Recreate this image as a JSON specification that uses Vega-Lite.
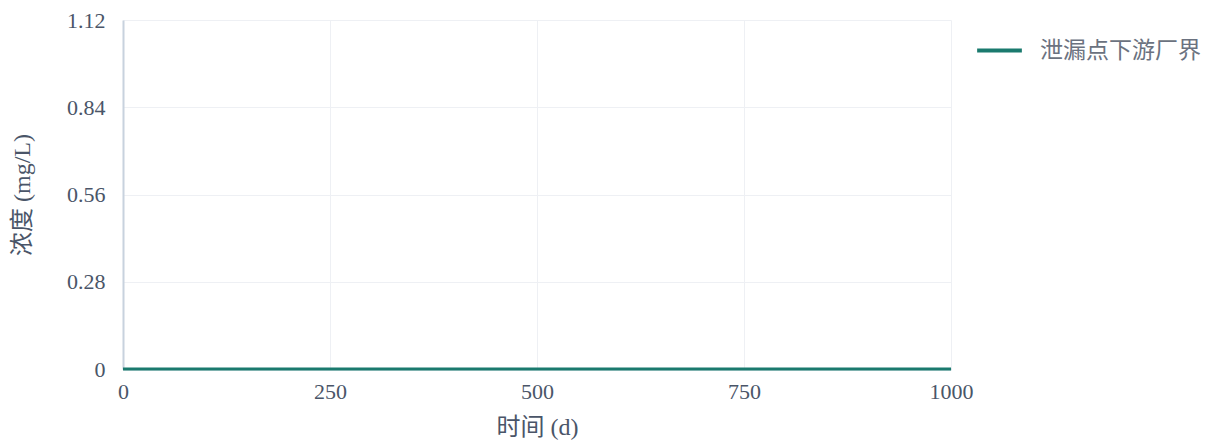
{
  "$schema": "https://vega.github.io/schema/vega-lite/v6.json",
  "width": 828,
  "height": 349,
  "autosize": "none",
  "padding": {"left": 123, "top": 20, "right": 254, "bottom": 72},
  "background": "white",
  "data": {
    "values": [
      {"t": 0, "c": 0, "s": "泄漏点下游厂界"},
      {"t": 100, "c": 0, "s": "泄漏点下游厂界"},
      {"t": 200, "c": 0, "s": "泄漏点下游厂界"},
      {"t": 300, "c": 0, "s": "泄漏点下游厂界"},
      {"t": 400, "c": 0, "s": "泄漏点下游厂界"},
      {"t": 500, "c": 0, "s": "泄漏点下游厂界"},
      {"t": 600, "c": 0, "s": "泄漏点下游厂界"},
      {"t": 700, "c": 0, "s": "泄漏点下游厂界"},
      {"t": 800, "c": 0, "s": "泄漏点下游厂界"},
      {"t": 900, "c": 0, "s": "泄漏点下游厂界"},
      {"t": 1000, "c": 0, "s": "泄漏点下游厂界"}
    ]
  },
  "config": {
    "view": {"stroke": null},
    "font": "Liberation Serif, Noto Sans CJK SC",
    "axis": {
      "labelFont": "Liberation Serif",
      "labelFontSize": 22,
      "labelColor": "#4a5568",
      "titleFont": "Liberation Serif, Noto Sans CJK SC",
      "titleFontSize": 24,
      "titleFontWeight": "normal",
      "titleColor": "#4a5568",
      "gridColor": "#eef0f4",
      "gridWidth": 1,
      "ticks": false
    }
  },
  "mark": {"type": "line", "strokeWidth": 3, "clip": false},
  "encoding": {
    "x": {
      "field": "t",
      "type": "quantitative",
      "title": "时间 (d)",
      "scale": {"domain": [0, 1000], "nice": false, "zero": false},
      "axis": {
        "values": [0, 250, 500, 750, 1000],
        "format": "d",
        "labelPadding": 12,
        "titlePadding": 13,
        "domainColor": "#c8d2de",
        "domainWidth": 2,
        "labelFlush": false
      }
    },
    "y": {
      "field": "c",
      "type": "quantitative",
      "title": "浓度 (mg/L)",
      "scale": {"domain": [0, 1.12], "nice": false},
      "axis": {
        "values": [0, 0.28, 0.56, 0.84, 1.12],
        "format": ".2~f",
        "labelPadding": 18,
        "titlePadding": 32,
        "domainColor": "#c8d2de",
        "domainWidth": 2
      }
    },
    "color": {
      "field": "s",
      "type": "nominal",
      "title": null,
      "scale": {"range": ["#1a7a6e"]},
      "legend": {
        "orient": "none",
        "legendX": 852,
        "legendY": 6,
        "symbolType": "stroke",
        "symbolSize": 2000,
        "symbolStrokeWidth": 4,
        "labelFont": "Noto Sans CJK SC",
        "labelFontSize": 23,
        "labelColor": "#6b7280",
        "labelOffset": 16,
        "labelLimit": 0
      }
    }
  }
}
